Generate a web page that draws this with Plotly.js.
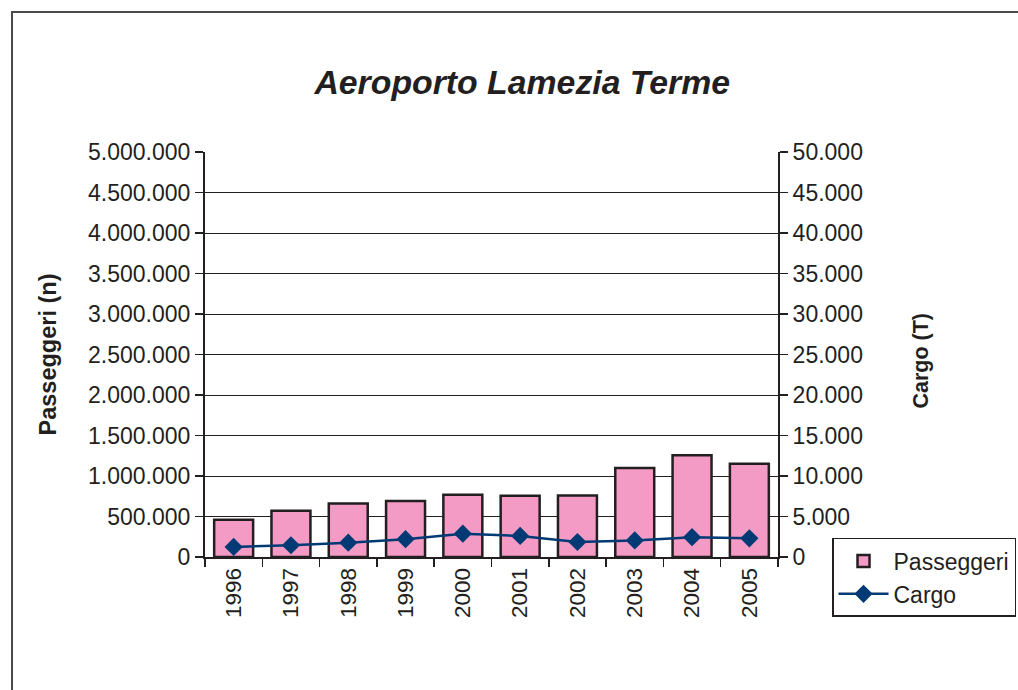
<!DOCTYPE html>
<html>
<head>
<meta charset="utf-8">
<script src="https://cdn.plot.ly/plotly-3.0.1.min.js"></script>
<style>html,body{margin:0;padding:0;background:#fff;}#chart{width:1018px;height:690px;}</style>
</head>
<body>
<div id="chart"></div>
<script>
const years = ['1996','1997','1998','1999','2000','2001','2002','2003','2004','2005'];
const passeggeri = [460000, 570000, 660000, 690000, 770000, 755000, 760000, 1100000, 1255000, 1150000];
const cargo = [1250, 1450, 1770, 2200, 2880, 2600, 1850, 2050, 2450, 2300];
const leftTicks = [0,500000,1000000,1500000,2000000,2500000,3000000,3500000,4000000,4500000,5000000];
const rightTicks = [0,5000,10000,15000,20000,25000,30000,35000,40000,45000,50000];

const font = '"Liberation Sans", Arial, Helvetica, sans-serif';
const ink = '#231F20';
const traces = [
  {
    type: 'bar', name: 'Passeggeri', x: years, y: passeggeri, legendgroup: 'p',
    marker: {color: '#F39BC4', line: {color: ink, width: 2.5}},
    width: 0.68, yaxis: 'y'
  },
  {
    type: 'scatter', mode: 'lines+markers', name: 'Cargo', x: years, y: cargo, legendgroup: 'c',
    line: {color: '#003A75', width: 2.5},
    marker: {symbol: 'diamond', size: 14, color: '#003A75'},
    yaxis: 'y2'
  }
];
const layout = {
  width: 1018, height: 690,
  margin: {l: 205, r: 240, t: 152, b: 133},
  paper_bgcolor: '#fff', plot_bgcolor: '#fff',
  separators: ',.',
  font: {family: font, color: ink, size: 22},
  title: {text: '<b><i>Aeroporto Lamezia Terme</i></b>', font: {family: font, size: 33.8, color: ink},
          x: 0.513, xanchor: 'center', y: 0.881, yanchor: 'middle', yref: 'container'},
  showlegend: true,
  legend: {xref: 'container', yref: 'container', x: 0.8173, xanchor: 'left', y: 0.2203, yanchor: 'top', bgcolor: '#fff',
           bordercolor: ink, borderwidth: 1.5, font: {size: 23, family: font, color: ink},
           tracegroupgap: 8, itemwidth: 50, traceorder: 'normal'},
  xaxis: {
    type: 'category', range: [-0.5, 9.5], tickangle: -90, tickfont: {size: 22.5}, ticks: 'outside', tickson: 'boundaries',
    ticklen: 8, tickcolor: ink, tickwidth: 1.5, showline: true, linecolor: ink, linewidth: 2,
    showgrid: false
  },
  yaxis: {
    range: [0, 5000000], tickvals: leftTicks, tickformat: ',d', tickfont: {size: 23},
    ticks: 'outside', ticklen: 8, tickcolor: ink, tickwidth: 1.5,
    showline: true, linecolor: ink, linewidth: 2,
    showgrid: true, gridcolor: ink, gridwidth: 1, zeroline: false,
    title: {text: '<b>Passeggeri (n)</b>', font: {size: 23.5, family: font}, standoff: 25}
  },
  yaxis2: {
    range: [0, 50000], tickvals: rightTicks, tickformat: ',d', tickfont: {size: 23},
    overlaying: 'y', side: 'right', ticks: 'outside', ticklen: 8, tickcolor: ink, tickwidth: 1.5,
    showline: true, linecolor: ink, linewidth: 2, showgrid: false, zeroline: false
  },
  annotations: [{
    text: '<b>Cargo (T)</b>', xref: 'paper', yref: 'paper', x: 1.2496, y: 0.485,
    xanchor: 'center', yanchor: 'middle', textangle: -90, showarrow: false,
    font: {size: 21.5, family: font, color: ink}
  }],
  shapes: [{
    type: 'rect', xref: 'paper', yref: 'paper',
    x0: -0.3368, x1: 1.6, y0: -0.6, y1: 1.3457,
    line: {color: '#4a4a4a', width: 2}, fillcolor: 'rgba(0,0,0,0)', layer: 'below'
  }]
};
Plotly.newPlot('chart', traces, layout, {displayModeBar: false, staticPlot: true});
</script>
</body>
</html>
